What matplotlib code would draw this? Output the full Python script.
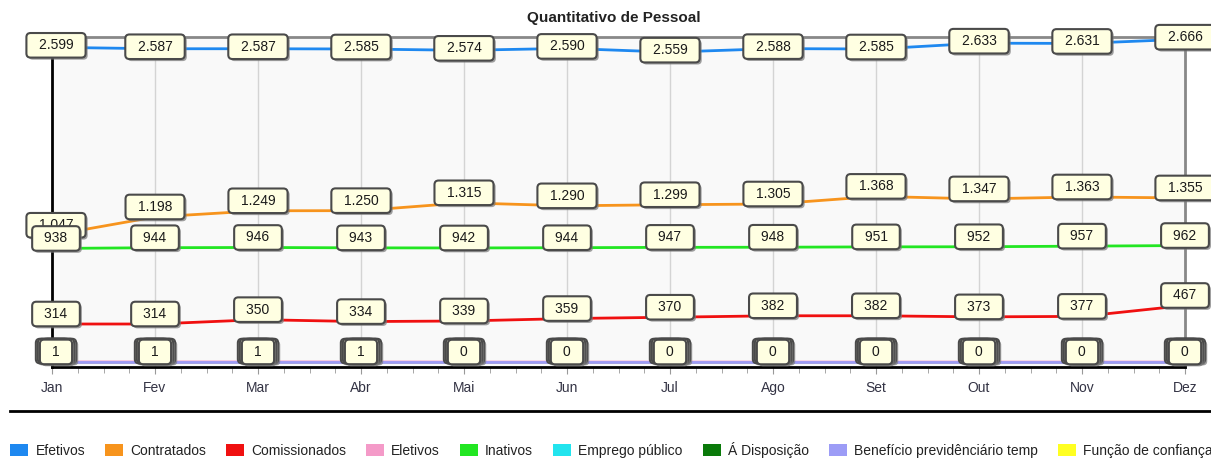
"""Quantitativo de Pessoal - line chart with boxed value labels."""

import matplotlib.patheffects as pe
import matplotlib.pyplot as plt
import numpy as np
from matplotlib.lines import Line2D
from matplotlib.patches import Patch

plt.rcParams["font.family"] = ["Liberation Sans", "DejaVu Sans"]

meses = ["Jan", "Fev", "Mar", "Abr", "Mai", "Jun", "Jul", "Ago", "Set", "Out", "Nov", "Dez"]

efetivos = [2599, 2587, 2587, 2585, 2574, 2590, 2559, 2588, 2585, 2633, 2631, 2666]
contratados = [1047, 1198, 1249, 1250, 1315, 1290, 1299, 1305, 1368, 1347, 1363, 1355]
comissionados = [314, 314, 350, 334, 339, 359, 370, 382, 382, 373, 377, 467]
eletivos = [1, 1, 1, 1, 0, 0, 0, 0, 0, 0, 0, 0]
inativos = [938, 944, 946, 943, 942, 944, 947, 948, 951, 952, 957, 962]
emprego_publico = [0] * 12
a_disposicao = [0] * 12
beneficio = [0] * 12
funcao_confianca = [0] * 12

nomes = ["Efetivos", "Contratados", "Comissionados", "Eletivos", "Inativos",
         "Emprego público", "Á Disposição", "Benefício previdênciário temp",
         "Função de confiança"]
series = [efetivos, contratados, comissionados, eletivos, inativos,
          emprego_publico, a_disposicao, beneficio, funcao_confianca]
cores = ["#1E88F0", "#F7941D", "#F01010", "#F49AC8", "#22E622",
         "#22E4EE", "#0A7A0A", "#9C9CF6", "#FFFF22"]

x = np.arange(len(meses))

fig = plt.figure(figsize=(12.11, 4.59), dpi=100)
ax = fig.add_axes([52 / 1211, 1 - 367 / 459, 1133 / 1211, 330 / 459])
ax.set_facecolor("#f9f9f9")
ax.set_xlim(0, 11)
ax.set_ylim(-41, 2684)

# vertical grid at each month
for xi in x[1:-1]:
    ax.axvline(xi, color="#d4d4d4", lw=1, zorder=1)

# lines: zero-valued series first so the purple one ends up on top
ordem_linhas = [5, 6, 8, 3, 7, 4, 2, 1, 0]
for i in ordem_linhas:
    ax.plot(x, series[i], color=cores[i], lw=2, zorder=3, solid_capstyle="butt")

sombra = pe.SimplePatchShadow(offset=(1.5, -1.5), shadow_rgbFace="#777777", alpha=0.7)


def rotulo(xi, yi, texto, dx, dy, z):
    t = ax.annotate("\u2002" + texto + "\u2002", (xi, yi), xytext=(dx, dy),
                    textcoords="offset pixels", ha="center", va="center",
                    fontsize=10, color="#1a1a1a", zorder=z,
                    bbox=dict(boxstyle="round,pad=0.38,rounding_size=0.3",
                              fc="#FFFFE2", ec="#4a4a4a", lw=1.5))
    t.get_bbox_patch().set_path_effects([sombra, pe.Normal()])


def fmt(v):
    return f"{v:,}".replace(",", ".")


z = 5
# series sitting at zero: their boxes pile up slightly shifted
for i, ddx in [(5, -4), (6, 4), (8, -2), (7, 2)]:
    for xi, v in zip(x, series[i]):
        rotulo(xi, v, fmt(v), ddx + (4 if xi == 0 else 0), 11, z)
    z += 1
for i in [0, 1, 2, 3, 4]:
    dy = 2 if i == 0 else 10
    for xi, v in zip(x, series[i]):
        rotulo(xi, v, fmt(v), 4 if xi == 0 else 0, dy, z)
    z += 1

ax.set_yticks([])
ax.set_xticks(x)
ax.set_xticklabels(meses, fontsize=10, color="#333344")
ax.set_xticks(np.arange(0, 11.01, 0.25), minor=True)
ax.tick_params(axis="x", which="both", direction="out", color="#999999", pad=5)
ax.tick_params(axis="x", which="major", length=5)
ax.tick_params(axis="x", which="minor", length=4)

ax.spines["left"].set_color("black")
ax.spines["left"].set_linewidth(2)
ax.spines["bottom"].set_color("black")
ax.spines["bottom"].set_linewidth(2)
ax.spines["top"].set_color("#888888")
ax.spines["top"].set_linewidth(2)
ax.spines["right"].set_color("#888888")
ax.spines["right"].set_linewidth(2)

fig.text(614 / 1211, 1 - 18 / 459, "Quantitativo de Pessoal", ha="center",
         va="center", fontsize=11, fontweight="bold", color="#222222")

fig.add_artist(Line2D([10 / 1211, 1.0], [1 - 411 / 459] * 2, color="black", lw=2))

handles = [Patch(facecolor=c, edgecolor="none") for c in cores]
fig.legend(handles, nomes, ncol=9, loc="center", bbox_to_anchor=(0.505, 1 - 450 / 459),
           frameon=False, fontsize=10, handlelength=1.3, handleheight=1.0,
           handletextpad=0.5, columnspacing=1.45, borderaxespad=0,
           labelcolor="#222222")

fig.savefig("out.png", dpi=100)
